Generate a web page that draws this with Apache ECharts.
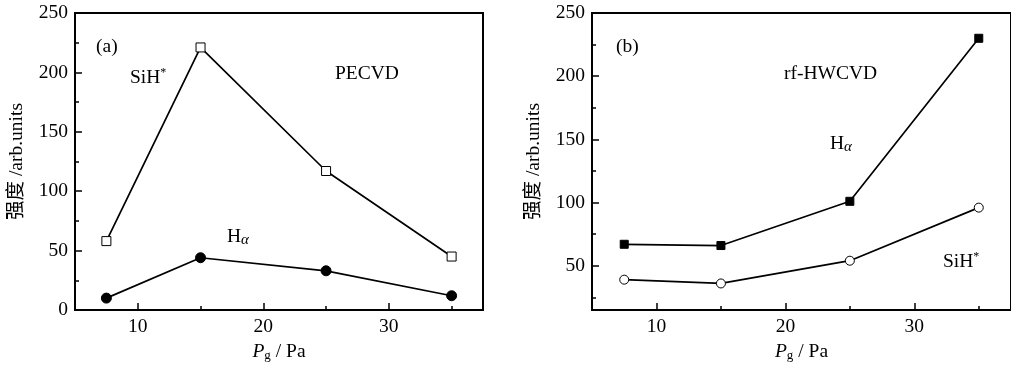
<!DOCTYPE html>
<html>
<head>
<meta charset="utf-8">
<script src="https://cdn.jsdelivr.net/npm/echarts@6/dist/echarts.min.js"></script>
<style>
html,body{margin:0;padding:0;background:#fff;}
#chart{width:1011px;height:367px;}
</style>
</head>
<body>
<div id="chart"></div>
<script>
// ---- data ----
const xValues = [7.5, 15, 25, 35];
const pecvdSiH = [58, 221, 117, 45];
const pecvdHa = [10, 44, 33, 12];
const hwcvdHa = [67, 66, 101, 230];
const hwcvdSiH = [39, 36, 54, 96];

const xMajorTicks = [10, 20, 30];
const xMinorTicks = [15, 25, 35];
const yMajorTicksA = [0, 50, 100, 150, 200, 250];
const yMinorTicksA = [25, 75, 125, 175, 225];
const yMajorTicksB = [50, 100, 150, 200, 250];
const yMinorTicksB = [25, 75, 125, 175, 225];

// ---- style ----
const FF = "'Liberation Serif', 'Times New Roman', 'Noto Sans CJK SC', serif";
const FS = 19.5;
const black = '#000';

function pairs(arr) { return xValues.map((x, i) => [x, arr[i]]); }

function xAxes(gi) {
  const base = { type: 'value', gridIndex: gi, min: 5, max: 37.5, position: 'bottom', splitLine: { show: false } };
  return [
    Object.assign({}, base, {
      axisLine: { show: true, onZero: false, lineStyle: { color: black, width: 2 } },
      axisTick: { show: true, inside: true, length: 7, customValues: xMajorTicks, lineStyle: { color: black, width: 1.5 } },
      axisLabel: { show: true, customValues: xMajorTicks, margin: 7, color: black, fontFamily: FF, fontSize: FS },
      name: '{i|P}{sub|g}{n| / Pa}',
      nameLocation: 'middle',
      nameGap: 31,
      nameTextStyle: {
        color: black, fontFamily: FF, fontSize: FS,
        rich: {
          i: { fontFamily: FF, fontSize: FS, fontStyle: 'italic', color: black },
          sub: { fontFamily: FF, fontSize: 13, color: black, verticalAlign: 'bottom', padding: [8, 0, 0, 0] },
          n: { fontFamily: FF, fontSize: FS, color: black }
        }
      }
    }),
    Object.assign({}, base, {
      axisLine: { show: false, onZero: false },
      axisTick: { show: true, inside: true, length: 4, customValues: xMinorTicks, lineStyle: { color: black, width: 1.5 } },
      axisLabel: { show: false }
    })
  ];
}

function yAxes(gi, min, major, minor) {
  const base = { type: 'value', gridIndex: gi, min: min, max: 250, position: 'left', splitLine: { show: false } };
  return [
    Object.assign({}, base, {
      axisLine: { show: true, onZero: false, lineStyle: { color: black, width: 2 } },
      axisTick: { show: true, inside: true, length: 7, customValues: major, lineStyle: { color: black, width: 1.5 } },
      axisLabel: { show: true, customValues: major, margin: 7, color: black, fontFamily: FF, fontSize: FS },
      name: '强度 /arb.units',
      nameLocation: 'middle',
      nameGap: 48,
      nameTextStyle: { color: black, fontFamily: FF, fontSize: FS }
    }),
    Object.assign({}, base, {
      axisLine: { show: false, onZero: false },
      axisTick: { show: true, inside: true, length: 4, customValues: minor, lineStyle: { color: black, width: 1.5 } },
      axisLabel: { show: false }
    })
  ];
}

function series(gi, data, symbol, size, fill) {
  return {
    type: 'line',
    xAxisIndex: gi * 2,
    yAxisIndex: gi * 2,
    data: pairs(data),
    symbol: symbol,
    symbolSize: size,
    showSymbol: true,
    lineStyle: { color: black, width: 1.7 },
    itemStyle: { color: fill, borderColor: black, borderWidth: 1 },
    z: 5
  };
}

function label(x, y, text, rich) {
  return {
    type: 'text', x: x, y: y, z: 100,
    style: {
      text: text, fill: black, fontFamily: FF, fontSize: FS,
      verticalAlign: 'middle', align: 'left',
      rich: rich || {}
    }
  };
}

const richSup = {
  n: { fontFamily: FF, fontSize: FS, color: black },
  sup: { fontFamily: FF, fontSize: 12, color: black, verticalAlign: 'top', padding: [0, 0, 10, 0] }
};
const richSub = {
  n: { fontFamily: FF, fontSize: FS, color: black },
  sub: { fontFamily: FF, fontSize: 15, fontStyle: 'italic', color: black, verticalAlign: 'bottom', padding: [7, 0, 0, 0] }
};

const chart = echarts.init(document.getElementById('chart'), null, { renderer: 'canvas' });
chart.setOption({
  animation: false,
  backgroundColor: '#fff',
  grid: [
    { left: 75, top: 13, width: 408, bottom: 55, show: true, borderColor: black, borderWidth: 2, containLabel: false },
    { left: 592, top: 13, right: -7, bottom: 55, show: true, borderColor: black, borderWidth: 2, containLabel: false }
  ],
  xAxis: xAxes(0).concat(xAxes(1)),
  yAxis: yAxes(0, 0, yMajorTicksA, yMinorTicksA).concat(yAxes(1, 15, yMajorTicksB, yMinorTicksB)),
  series: [
    series(0, pecvdSiH, 'rect', 9, '#fff'),
    series(0, pecvdHa, 'circle', 10, black),
    series(1, hwcvdHa, 'rect', 8, black),
    series(1, hwcvdSiH, 'circle', 9, '#fff')
  ],
  graphic: [
    label(96, 47, '(a)'),
    label(130, 78, '{n|SiH}{sup|*}', richSup),
    label(335, 74, 'PECVD'),
    label(227, 237, '{n|H}{sub|α}', richSub),
    label(616, 47, '(b)'),
    label(784, 74, 'rf-HWCVD'),
    label(830, 144, '{n|H}{sub|α}', richSub),
    label(943, 262, '{n|SiH}{sup|*}', richSup)
  ]
});
</script>
</body>
</html>
